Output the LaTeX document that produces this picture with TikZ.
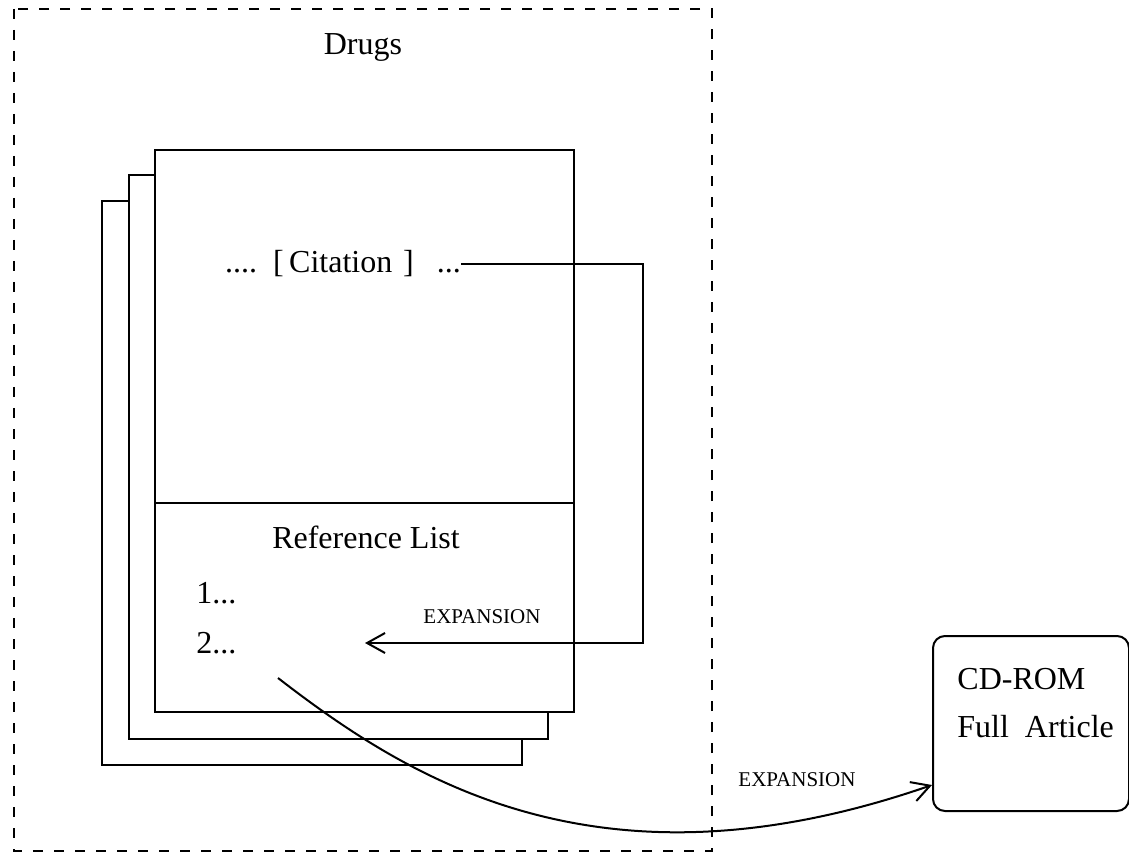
\documentclass[tikz,border=0pt]{standalone}
\usepackage{fontspec}
\setmainfont{Liberation Serif}
\usetikzlibrary{arrows.meta}
\begin{document}
\begin{tikzpicture}[x=0.5pt,y=-0.5pt,
  page/.style={draw,line width=1pt,fill=white},
  frame/.style={draw,line width=1.3pt,dash pattern=on 5pt off 5.5pt},
  lbl/.style={font=\fontsize{16}{18}\selectfont,inner sep=0pt},
  small/.style={font=\fontsize{10.5}{12}\selectfont,inner sep=0pt},
  link/.style={line width=1pt},
  barb/.style={-{Straight Barb[length=9pt,width=10pt,line width=1pt]}}]
\useasboundingbox (0,0) rectangle (1129,855);
% dashed enclosure of the drug pages
\draw[frame] (14,9) rectangle (712,851);
\node[lbl] (drugs) at (363,47) {Drugs};
% stack of pages
\draw[page] (102,201) rectangle (522,765);
\draw[page] (129,175) rectangle (548,739);
\draw[page] (155,150) rectangle (574,712);
\draw[link] (155,503) -- (574,503);
\node[lbl,anchor=base] (cite) at (343,273) {.... \,[\,Citation\,\,]\;\;\,...};
\node[lbl] (reflist) at (366,537) {Reference List};
\node[lbl,anchor=west] (one) at (196,593) {1...};
\node[lbl,anchor=west] (two) at (196,643) {2...};
\node[small] (exp1) at (482,617) {EXPANSION};
\coordinate (tip1) at (365,643);
\coordinate (src2) at (278,678);
% CD-ROM box
\node[draw,line width=1pt,rounded corners=6pt,minimum width=98pt,minimum height=87.5pt,
      anchor=north west,inner sep=0pt] (cd) at (932,635) {};
\node[lbl,anchor=west] (cdrom) at (957,679) {CD-ROM};
\node[lbl,anchor=west] (full) at (957,727) {Full\ \ Article};
\node[small] (exp2) at (797,780) {EXPANSION};
% connectors
\draw[link,barb] (cite.east |- 0,264) -- (643,264) -- (643,643) -- (tip1);
\draw[link,barb] (src2) .. controls (410,780) and (600,900) .. (cd.west |- 0,785);
\end{tikzpicture}
\end{document}
